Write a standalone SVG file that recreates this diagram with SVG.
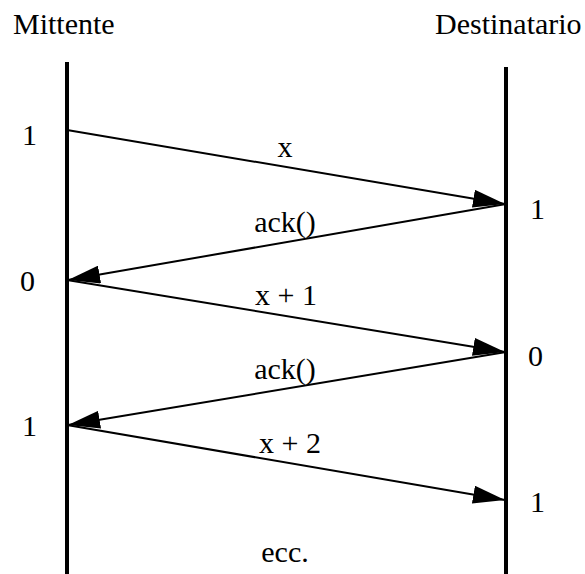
<svg xmlns="http://www.w3.org/2000/svg" width="585" height="574" viewBox="0 0 585 574" font-family="'Liberation Serif', 'Times New Roman', Times, serif">
<style>
text{font-family:'Liberation Serif','Times New Roman',Times,serif;font-size:30px;fill:#000}
.life{stroke:#000;stroke-width:4;fill:none}
.msg{stroke:#000;stroke-width:2;fill:none;marker-end:url(#ah)}
</style>
<defs>
<marker id="ah" markerUnits="userSpaceOnUse" markerWidth="32" markerHeight="18" refX="32" refY="9" orient="auto">
<path d="M0,0 L32,9 L0,18 Z" fill="#000"/>
</marker>
</defs>
<rect width="585" height="574" fill="#fff"/>
<g id="mittente">
<text x="13" y="34">Mittente</text>
<line class="life" x1="67" y1="62" x2="67" y2="574"/>
<text x="22" y="145">1</text>
<text x="20" y="291">0</text>
<text x="22" y="436">1</text>
</g>
<g id="destinatario">
<text x="435" y="34">Destinatario</text>
<line class="life" x1="506" y1="67" x2="506" y2="574"/>
<text x="530" y="219">1</text>
<text x="528" y="366">0</text>
<text x="530" y="512">1</text>
</g>
<g id="connectors">
<line class="msg" x1="67" y1="130" x2="505" y2="204"/>
<line class="msg" x1="506" y1="204" x2="68" y2="280"/>
<line class="msg" x1="67" y1="280" x2="505" y2="352"/>
<line class="msg" x1="506" y1="352" x2="68" y2="425"/>
<line class="msg" x1="67" y1="425" x2="505" y2="500"/>
</g>
<g id="labels">
<text x="285" y="157" text-anchor="middle">x</text>
<text x="285" y="232" text-anchor="middle">ack()</text>
<text x="286" y="305" text-anchor="middle">x + 1</text>
<text x="285" y="379" text-anchor="middle">ack()</text>
<text x="290" y="453" text-anchor="middle">x + 2</text>
<text x="285" y="562" text-anchor="middle">ecc.</text>
</g>
</svg>
